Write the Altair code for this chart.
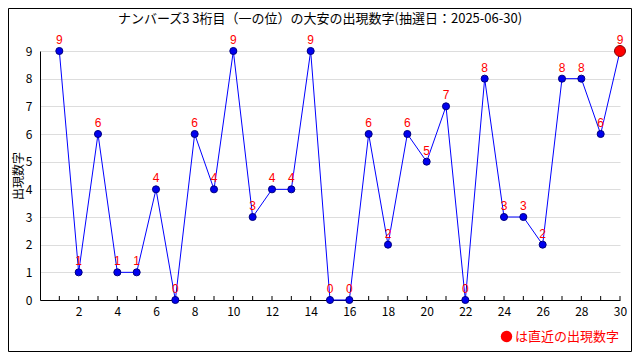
import altair as alt
import pandas as pd

# ---- data ----
draws = list(range(1, 31))
digits = [9, 1, 6, 1, 1, 4, 0, 6, 4, 9, 3, 4, 4, 9, 0, 0, 6, 2, 6, 5,
          7, 0, 8, 3, 3, 2, 8, 8, 6, 9]
x_tick_labels = list(range(2, 31, 2))
y_ticks = list(range(0, 10))
title_text = "ナンバーズ3 3桁目（一の位）の大安の出現数字(抽選日：2025-06-30)"
y_title = "出現数字"
legend_label = "は直近の出現数字"

df = pd.DataFrame({"回": draws, "数字": digits})
df["latest"] = legend_label
latest_df = df.tail(1)
past_df = df.iloc[:-1]
ticks_df = pd.DataFrame({"回": draws, "数字": [0] * len(draws)})

W, H = 580, 249
FONT = "Noto Sans CJK JP"

xs = alt.Scale(domain=[0, 30], nice=False, zero=False)
ys = alt.Scale(domain=[0, 9], nice=False)

x_axis = alt.Axis(values=x_tick_labels, ticks=False, grid=False, title=None,
                  labelPadding=6, domainColor="black", labelColor="black",
                  labelFontSize=12, labelFont=FONT, labelFlush=False,
                  labelOverlap=False)
y_axis = alt.Axis(values=y_ticks, ticks=False, grid=True, gridColor="#dddddd",
                  title=y_title, titleFontSize=12, titleFontWeight="normal",
                  titleFont=FONT, titleColor="black", titlePadding=0,
                  labelPadding=8, domainColor="black", labelColor="black",
                  labelFontSize=12, labelFont=FONT, labelOverlap=False)


def X():
    return alt.X("回:Q", scale=xs, axis=x_axis)


def Y():
    return alt.Y("数字:Q", scale=ys, axis=y_axis)


base = alt.Chart(df)

line = base.mark_line(color="#0000ff", strokeWidth=1).encode(x=X(), y=Y())

tick_rules = alt.Chart(ticks_df).mark_rule(color="black", strokeWidth=1).encode(
    x=X(), y=Y(), y2=alt.value(H - 4),
)

points = alt.Chart(past_df).mark_point(
    filled=True, shape="circle", size=50, fill="#0000ee", stroke="#000080",
    strokeWidth=1, opacity=1,
).encode(x=X(), y=Y())

labels = base.mark_text(
    color="red", fontSize=12, font="Liberation Sans", dy=-11, baseline="middle",
).encode(x=X(), y=Y(), text="数字:Q")

latest = alt.Chart(latest_df).mark_point(
    filled=True, shape="circle", size=120, strokeWidth=1, stroke="#800000", opacity=1,
).encode(
    x=X(), y=Y(),
    color=alt.Color(
        "latest:N",
        scale=alt.Scale(domain=[legend_label], range=["#ff0000"]),
        legend=alt.Legend(title=None, orient="none", legendX=460, legendY=279,
                          labelColor="#ff0000", labelFontSize=13, labelFont=FONT,
                          symbolSize=130, symbolType="circle", symbolStrokeWidth=0,
                          labelOffset=2, padding=0),
    ),
)

frame = alt.Chart(pd.DataFrame({"a": [0]})).mark_rect(
    fillOpacity=0, stroke="black", strokeWidth=1,
).encode(
    x=alt.value(-31.5), x2=alt.value(W + 11.5),
    y=alt.value(-42.5), y2=alt.value(H + 51.5),
)

chart = alt.layer(frame, tick_rules, line, points, labels, latest).properties(
    width=W, height=H,
    title=alt.TitleParams(text=title_text, fontSize=13, fontWeight="normal",
                          font=FONT, color="black", anchor="middle",
                          frame="group", dx=-10, offset=-18),
    autosize=alt.AutoSizeParams(type="none"),
    padding={"left": 32, "top": 43, "right": 12, "bottom": 52},
    background="white",
).configure_view(stroke=None)

chart.save("out.html", embed_options={"renderer": "svg", "actions": False})
